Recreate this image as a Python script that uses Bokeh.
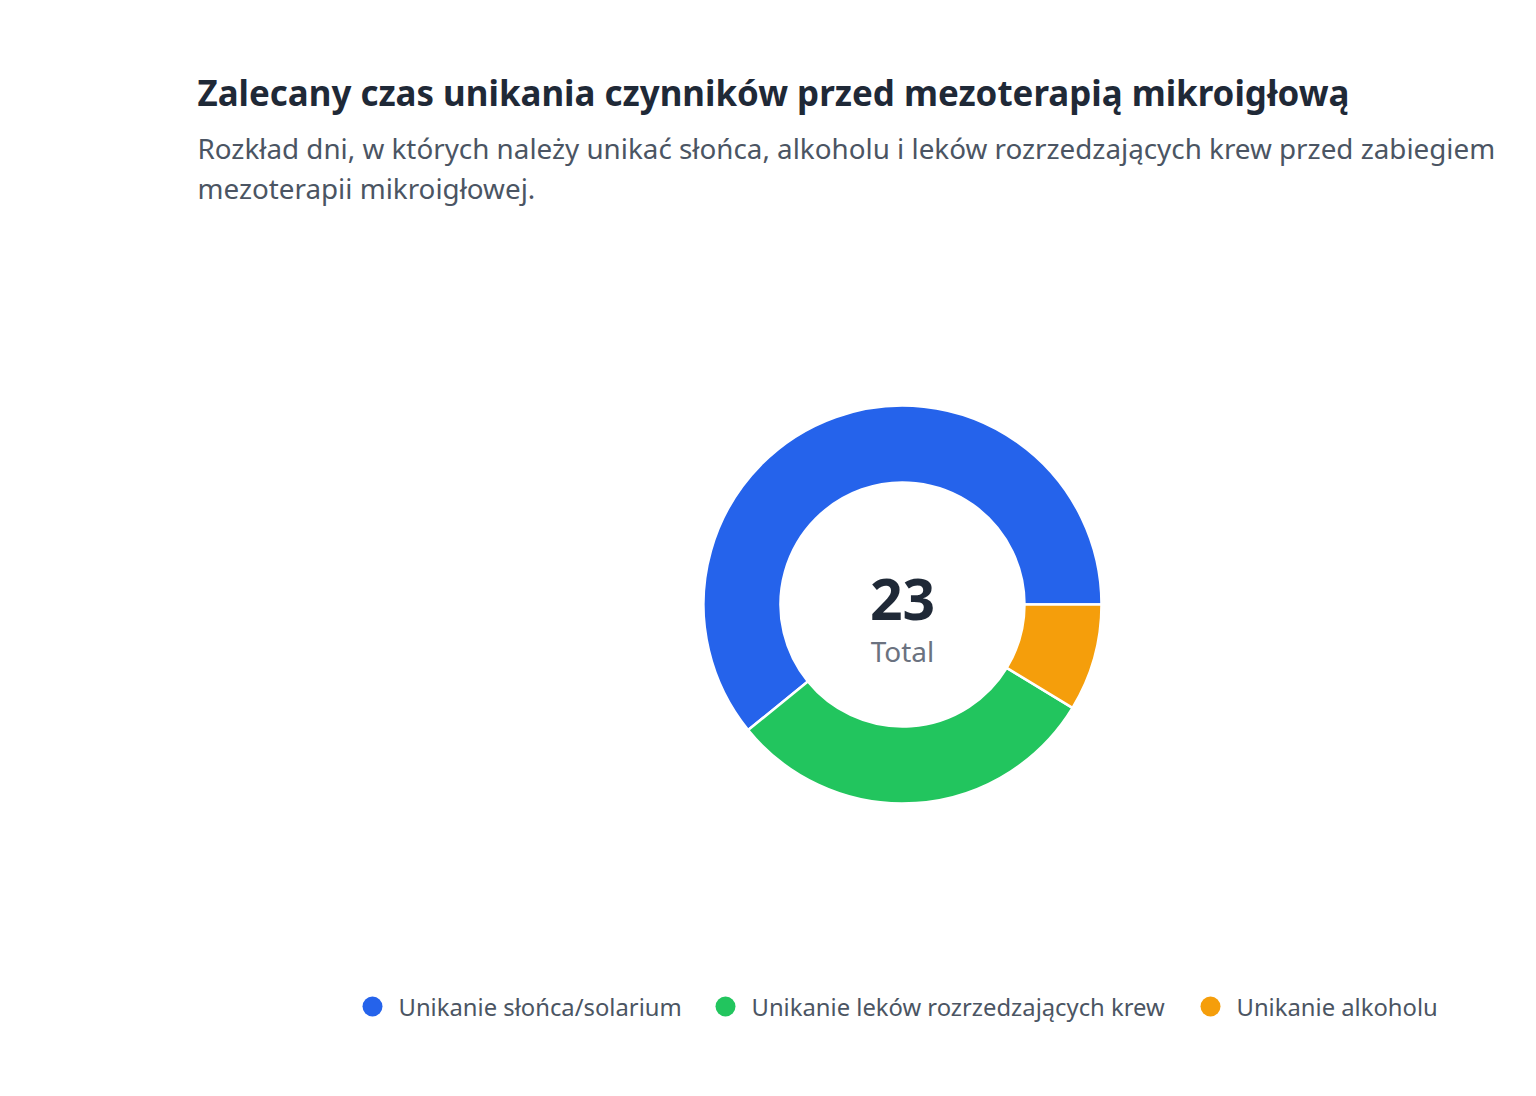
import numpy as np

from bokeh.core.properties import value
from bokeh.embed import file_html
from bokeh.models import ColumnDataSource
from bokeh.plotting import figure
from bokeh.resources import INLINE

# Data
labels = ["Unikanie słońca/solarium", "Unikanie leków rozrzedzających krew", "Unikanie alkoholu"]
days = [14, 7, 2]
colors = ["#2563eb", "#22c55e", "#f59e0b"]

title = "Zalecany czas unikania czynników przed mezoterapią mikroigłową"
subtitle = ["Rozkład dni, w których należy unikać słońca, alkoholu i leków rozrzedzających krew przed zabiegiem",
            "mezoterapii mikroigłowej."]
center_label = "Total"

W, H = 1520, 1080
FONT = "Noto Sans"


def py(y):
    # screen y (from top) -> figure y (y axis points up)
    return H - y


p = figure(width=W, height=H, x_range=(0, W), y_range=(0, H),
           output_backend="svg", toolbar_location=None,
           x_axis_location=None, y_axis_location=None, min_border=0)
p.grid.visible = False
p.outline_line_color = None
p.background_fill_color = "white"

# Donut
total = sum(days)
frac = np.array(days) / total
ends = np.cumsum(frac) * 2 * np.pi
starts = ends - frac * 2 * np.pi
source = ColumnDataSource(dict(label=labels, days=days, color=colors,
                               start=starts, end=ends))

cx, cy = 902, py(604)
p.annular_wedge(x=cx, y=cy, inner_radius=122, outer_radius=199,
                start_angle="start", end_angle="end", direction="anticlock",
                fill_color="color", line_color="white", line_width=2.5,
                source=source)

# Center text
p.text(x=[cx], y=[py(599)], text=[str(total)], text_font=value(FONT),
       text_font_size="57px", text_font_style="bold", text_color="#1f2937",
       text_align="center", text_baseline="middle")
p.text(x=[cx], y=[py(650)], text=[center_label], text_font=value(FONT),
       text_font_size="28px", text_color="#6b7280",
       text_align="center", text_baseline="middle")

# Title and subtitle
p.text(x=[197], y=[py(92)], text=[title], text_font=value(FONT),
       text_font_size="34.9px", text_font_style="bold", text_color="#1f2937",
       text_align="left", text_baseline="middle")
p.text(x=[197, 197], y=[py(147), py(187)], text=subtitle,
       text_font=value(FONT), text_font_size="27.8px", text_color="#4b5563",
       text_align="left", text_baseline="middle")

# Legend
legend_x = [372, 725, 1210]
legend_y = [py(1006)] * 3
p.scatter(x=legend_x, y=legend_y, size=20, marker="circle",
          fill_color=colors, line_color=None)
p.text(x=[x + 26 for x in legend_x], y=legend_y, text=labels,
       text_font=value(FONT), text_font_size="23.8px", text_color="#4b5563",
       text_align="left", text_baseline="middle")

open("out.html", "w").write(file_html(p, INLINE))
